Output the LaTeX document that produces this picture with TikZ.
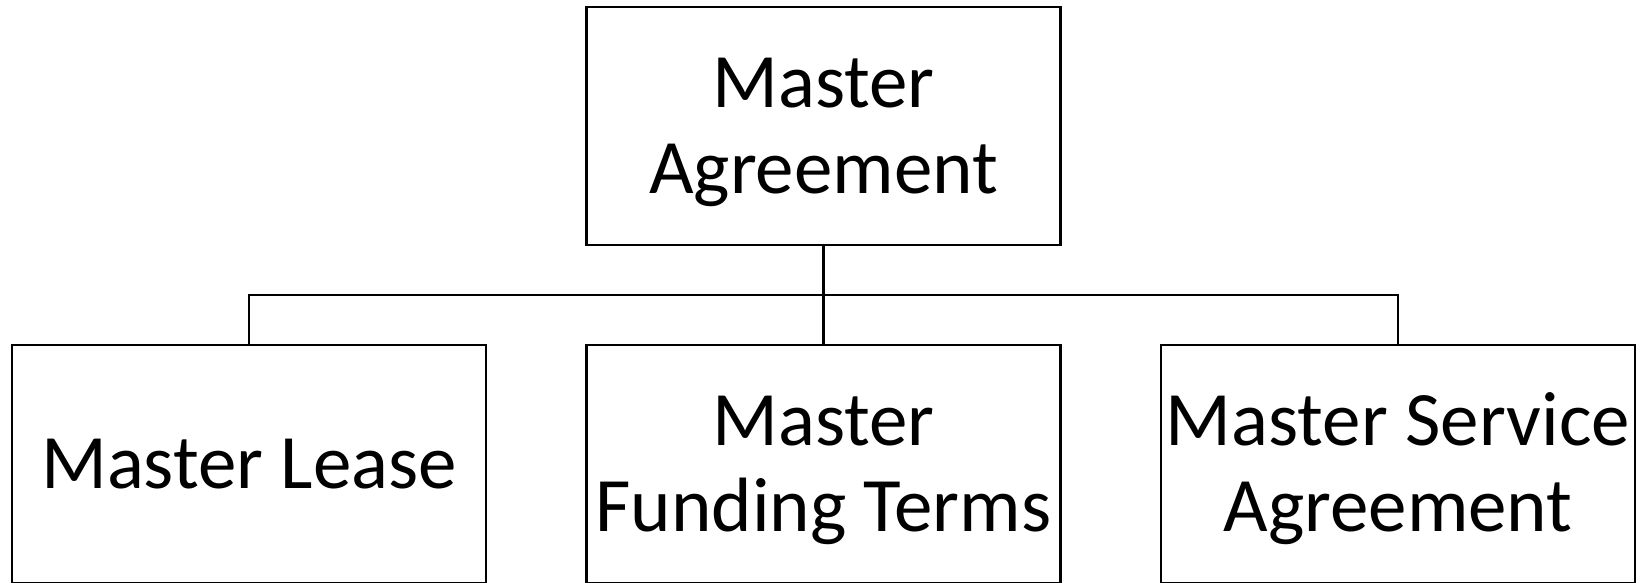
\documentclass[tikz,border=0pt]{standalone}
\usepackage{fontspec}
\setmainfont{Carlito}
\usetikzlibrary{positioning}
\newcommand{\toprule}{\rule{0pt}{63pt}}
\tikzset{
  docbox/.style={draw, line width=2.6pt, minimum width=474pt, minimum height=238pt,
    inner sep=0pt, align=center, font=\fontsize{77}{86}\selectfont},
  link/.style={line width=2.2pt}
}
\begin{document}
\begin{tikzpicture}[x=1pt, y=-1pt, line join=miter]
	% Khung ảnh
	\useasboundingbox (0,0) rectangle (1647,582);
	
	% Các hộp
	\node[docbox] (master) at (823.5,126) {\toprule Master\\Agreement};
	\node[docbox] (lease) at (249,464) {Master Lease};
	\node[docbox] (funding) at (823.5,464) {\toprule Master\\Funding Terms};
	\node[docbox] (service) at (1398,464) {\toprule Master Service\\Agreement};
	
	% Đường nối
	\coordinate (bus) at (823.5,295);
	\draw[link] (master.south) -- (funding.north);
	\draw[link] (lease.north) |- (bus) -| (service.north);
\end{tikzpicture}
\end{document}
